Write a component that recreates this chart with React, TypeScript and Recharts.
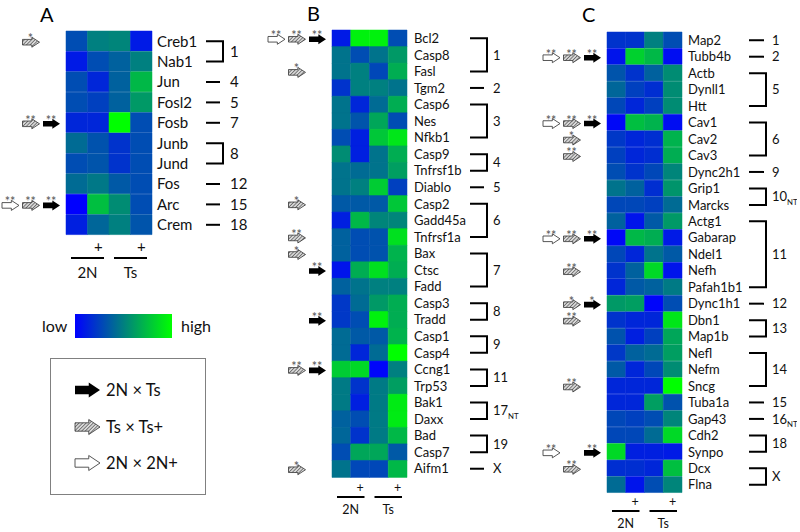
import React from 'react';
import { BarChart, Bar, XAxis, YAxis, Cell } from 'recharts';

const FONT = 'Lato, "Open Sans", sans-serif';

// ---- Panel A ----
const genesA = ['Creb1', 'Nab1', 'Jun', 'Fosl2', 'Fosb', 'Junb', 'Jund', 'Fos', 'Arc', 'Crem'];
const chromA = ['1', '1', '4', '5', '7', '8', '8', '12', '15', '18'];
const arrowsA = ['h1', '', '', '', 'h2 b2', '', '', '', 'w2 h2 b2', ''];
const a2N = [0.3, 0.1, 0.3, 0.3, 0.15, 0.42, 0.3, 0.42, 0.0, 0.12];
const a2Np = [0.5, 0.3, 0.15, 0.25, 0.15, 0.32, 0.33, 0.47, 0.75, 0.4];
const aTs = [0.52, 0.38, 0.38, 0.38, 1.0, 0.2, 0.2, 0.35, 0.55, 0.5];
const aTsp = [0.1, 0.5, 0.72, 0.6, 0.3, 0.3, 0.3, 0.3, 0.3, 0.33];

// ---- Panel B ----
const genesB = ['Bcl2', 'Casp8', 'Fasl', 'Tgm2', 'Casp6', 'Nes', 'Nfkb1', 'Casp9', 'Tnfrsf1b', 'Diablo', 'Casp2', 'Gadd45a', 'Tnfrsf1a', 'Bax', 'Ctsc', 'Fadd', 'Casp3', 'Tradd', 'Casp1', 'Casp4', 'Ccng1', 'Trp53', 'Bak1', 'Daxx', 'Bad', 'Casp7', 'Aifm1'];
const chromB = ['1', '1', '1', '2', '3', '3', '3', '4', '4', '5', '6', '6', '6', '7', '7', '7', '8', '8', '9', '9', '11', '11', '17NT', '17NT', '19', '19', 'X'];
const arrowsB = ['w2 h2 b2', '', 'h1', '', '', '', '', '', '', '', 'h1', '', 'h2', 'h1', 'b2', '', '', 'b2', '', '', 'h2 b2', '', '', '', '', '', 'h1'];
const b2N = [0.1, 0.45, 0.45, 0.2, 0.45, 0.45, 0.3, 0.55, 0.45, 0.45, 0.35, 0.12, 0.38, 0.38, 0.08, 0.38, 0.22, 0.22, 0.42, 0.42, 0.8, 0.48, 0.48, 0.38, 0.4, 0.3, 0.45];
const b2Np = [0.95, 0.3, 0.5, 0.5, 0.15, 0.33, 0.12, 0.12, 0.42, 0.5, 0.35, 0.72, 0.3, 0.3, 0.68, 0.45, 0.42, 0.3, 0.35, 0.15, 0.85, 0.2, 0.12, 0.3, 0.2, 0.65, 0.28];
const bTs = [0.95, 0.45, 0.28, 0.5, 0.42, 0.65, 0.78, 0.45, 0.45, 0.8, 0.35, 0.52, 0.32, 0.32, 0.88, 0.5, 0.6, 0.95, 0.35, 0.42, 0.02, 0.48, 0.48, 0.48, 0.48, 0.65, 0.28];
const bTsp = [0.3, 0.6, 0.68, 0.45, 0.68, 0.3, 0.9, 0.68, 0.62, 0.25, 0.78, 0.52, 0.88, 0.7, 0.68, 0.5, 0.68, 0.68, 0.7, 1.0, 0.5, 0.62, 0.92, 0.92, 0.72, 0.35, 0.72];

// ---- Panel C ----
const genesC = ['Map2', 'Tubb4b', 'Actb', 'Dynll1', 'Htt', 'Cav1', 'Cav2', 'Cav3', 'Dync2h1', 'Grip1', 'Marcks', 'Actg1', 'Gabarap', 'Ndel1', 'Nefh', 'Pafah1b1', 'Dync1h1', 'Dbn1', 'Map1b', 'Nefl', 'Nefm', 'Sncg', 'Tuba1a', 'Gap43', 'Cdh2', 'Synpo', 'Dcx', 'Flna'];
const chromC = ['1', '2', '5', '5', '5', '6', '6', '6', '9', '10NT', '10NT', '11', '11', '11', '11', '11', '12', '13', '13', '14', '14', '14', '15', '16NT', '18', '18', 'X', 'X'];
const arrowsC = ['', 'w2 h2 b2', '', '', '', 'w2 h2 b2', 'h1', 'h2', '', '', '', '', 'w2 h2 b2', '', 'h2', '', 'h1 b1', 'h2', '', '', '', 'h2', '', '', '', 'w2 b2', 'h2', ''];
const c2N = [0.2, 0.08, 0.33, 0.4, 0.28, 0.03, 0.22, 0.25, 0.3, 0.45, 0.28, 0.38, 0.03, 0.28, 0.2, 0.15, 0.6, 0.2, 0.32, 0.22, 0.35, 0.15, 0.15, 0.28, 0.28, 0.85, 0.18, 0.42];
const c2Np = [0.2, 0.82, 0.2, 0.25, 0.15, 0.75, 0.15, 0.15, 0.2, 0.38, 0.28, 0.08, 0.72, 0.15, 0.38, 0.35, 0.62, 0.15, 0.12, 0.38, 0.15, 0.15, 0.15, 0.25, 0.28, 0.12, 0.18, 0.08];
const cTs = [0.5, 0.72, 0.38, 0.18, 0.25, 0.7, 0.18, 0.18, 0.28, 0.18, 0.25, 0.35, 0.68, 0.45, 0.85, 0.38, 0.02, 0.15, 0.25, 0.42, 0.28, 0.15, 0.62, 0.3, 0.42, 0.12, 0.15, 0.3];
const cTsp = [0.3, 0.05, 0.55, 0.55, 0.55, 0.05, 0.7, 0.68, 0.52, 0.58, 0.42, 0.6, 0.1, 0.35, 0.08, 0.48, 0.3, 0.9, 0.65, 0.62, 0.55, 1.0, 0.32, 0.52, 0.85, 0.1, 0.75, 0.52];

const groupLabels = ['2N', 'Ts'];

// blue (low) -> green (high)
const heatColor = (v: number) => `rgb(0,${Math.round(255 * v)},${Math.round(255 * (1 - v))})`;

const arrowPath = (x0: number, cy: number, w: number, h: number) => {
    const sx = x0 + w * 0.55;
    const sh = h * 0.28;
    const hh = h / 2;
    return `M${x0},${cy - sh} L${sx},${cy - sh} L${sx},${cy - hh} L${x0 + w},${cy} L${sx},${cy + hh} L${sx},${cy + sh} L${x0},${cy + sh} Z`;
};

const Arrow = ({ kind, x, y, w, h }: { kind: string; x: number; y: number; w: number; h: number }) => {
    if (kind === 'b') return <path d={arrowPath(x, y, w, h)} fill="#000" />;
    if (kind === 'h') return <path d={arrowPath(x, y, w, h)} fill="url(#hatch)" stroke="#333" strokeWidth={0.8} />;
    return <path d={arrowPath(x, y, w, h)} fill="#fff" stroke="#444" strokeWidth={0.9} />;
};

const kindCol: Record<string, number> = { w: 0, h: 1, b: 2 };

interface PanelProps {
    letter: string;
    genes: string[];
    chrom: string[];
    arrows: string[];
    cols: number[][];
    left: number;
    mLeft: number;
    mTop: number;
    plotW: number;
    plotH: number;
    rightW: number;
    bottomH: number;
    fs: number;
    labelGap: number;
    br: { start: number; vx: number; num: number; dash: number };
    xt: { plus: number; line: number; label: number; fs: number };
    letterPos: [number, number];
}

const HeatPanel = (p: PanelProps) => {
    const n = p.genes.length;
    const rowH = p.plotH / n;
    const cellW = p.plotW / 4;
    const data = p.genes.map(g => ({ gene: g, c1: 1, c2: 1, c3: 1, c4: 1 }));

    const geneTick = (props: any) => {
        const { x, y, payload } = props;
        const i = p.genes.indexOf(payload.value);
        const cy = y;
        const c = p.chrom[i];
        const isStart = i === 0 || p.chrom[i - 1] !== c;
        let size = 0;
        while (i + size < n && p.chrom[i + size] === c) size++;
        const nt = c.endsWith('NT');
        const main = nt ? c.slice(0, -2) : c;
        const arr = p.arrows[i] ? p.arrows[i].split(' ') : [];
        const heatLeft = p.mLeft;
        return (
            <g>
                <text x={x + p.labelGap} y={cy + p.fs * 0.36} fontSize={p.fs} fill="#111">{payload.value}</text>
                {isStart && size === 1 && (
                    <line x1={x + p.br.start} x2={x + p.br.start + p.br.dash} y1={cy} y2={cy} stroke="#000" strokeWidth={2} />
                )}
                {isStart && size > 1 && (
                    <path
                        d={`M${x + p.br.start},${cy} H${x + p.br.vx} V${cy + (size - 1) * rowH} H${x + p.br.start}`}
                        fill="none" stroke="#000" strokeWidth={2}
                    />
                )}
                {isStart && (
                    <text x={x + p.br.num} y={cy + ((size - 1) / 2) * rowH + p.fs * 0.36} fontSize={p.fs} fill="#111">
                        <tspan>{main}</tspan>
                        {nt && <tspan fontSize={p.fs * 0.6} dy={p.fs * 0.3}>NT</tspan>}
                    </text>
                )}
                {arr.map(a => {
                    const col = kindCol[a[0]];
                    const ax = heatLeft - 6 - 17 - (2 - col) * 20.5;
                    return (
                        <g key={a}>
                            <Arrow kind={a[0]} x={ax} y={cy + 1} w={17} h={10} />
                            <text x={ax + 8} y={cy + 2} fontSize={12.5} fill="#555" textAnchor="middle">
                                {a[1] === '2' ? '**' : '*'}
                            </text>
                        </g>
                    );
                })}
            </g>
        );
    };

    const groupTick = (props: any) => {
        const { x, y, payload } = props;
        const label = payload.value === 1 ? groupLabels[0] : groupLabels[1];
        return (
            <g>
                <text x={x + cellW / 2} y={y + p.xt.plus + p.xt.fs * 0.36} fontSize={p.xt.fs} textAnchor="middle" fill="#111">+</text>
                <line x1={x - cellW + 5} x2={x + cellW - 5} y1={y + p.xt.line} y2={y + p.xt.line} stroke="#000" strokeWidth={2} />
                <text x={x} y={y + p.xt.label + p.xt.fs * 0.36} fontSize={p.xt.fs} textAnchor="middle" fill="#111">{label}</text>
            </g>
        );
    };

    const width = p.mLeft + p.plotW + p.rightW;
    const height = p.mTop + p.plotH + p.bottomH;

    return (
        <div style={{ position: 'absolute', left: p.left, top: 0, width, height }}>
            <div style={{ position: 'absolute', left: p.letterPos[0] - p.left, top: p.letterPos[1], fontSize: 20, lineHeight: '20px' }}>{p.letter}</div>
            <BarChart
                layout="vertical"
                width={width}
                height={height}
                data={data}
                margin={{ top: p.mTop, left: p.mLeft, right: 0, bottom: 0 }}
                barCategoryGap={0}
                barGap={0}
            >
                <XAxis type="number" domain={[0, 4]} ticks={[1, 3]} height={p.bottomH} axisLine={false} tickLine={false} tickSize={0} tickMargin={0} tick={groupTick} />
                <YAxis type="category" dataKey="gene" orientation="right" width={p.rightW} axisLine={false} tickLine={false} tickSize={0} tickMargin={0} interval={0} tick={geneTick} />
                {['c1', 'c2', 'c3', 'c4'].map((k, ci) => (
                    <Bar key={k} dataKey={k} stackId="s" isAnimationActive={false}>
                        {p.cols[ci].map((v, i) => (
                            <Cell key={`cell-${i}`} fill={heatColor(v)} stroke={heatColor(v)} strokeWidth={0.5} />
                        ))}
                    </Bar>
                ))}
            </BarChart>
        </div>
    );
};

const LegendArea = () => (
    <svg width={260} height={232} style={{ position: 'absolute', left: 0, top: 300 }}>
        <defs>
            <linearGradient id="heatGrad" x1="0" x2="1" y1="0" y2="0">
                <stop offset="0%" stopColor="rgb(0,0,255)" />
                <stop offset="100%" stopColor="rgb(0,255,0)" />
            </linearGradient>
            <pattern id="hatch" patternUnits="userSpaceOnUse" width={2.5} height={2.5} patternTransform="rotate(45)">
                <rect width={2.5} height={2.5} fill="#d8d8d8" />
                <line x1={0} y1={0} x2={0} y2={2.5} stroke="#555" strokeWidth={1.4} />
            </pattern>
        </defs>
        <text x={42} y={26 + 5.5} fontSize={16} fill="#111">low</text>
        <rect x={75} y={14} width={97} height={24} fill="url(#heatGrad)" />
        <text x={181} y={26 + 5.5} fontSize={16} fill="#111">high</text>
        <rect x={50.5} y={58.5} width={155} height={136} fill="none" stroke="#808080" strokeWidth={1} />
        <Arrow kind="b" x={75} y={90} w={25} h={15} />
        <text x={106} y={90 + 6} fontSize={16.5} fill="#111">2N × Ts</text>
        <Arrow kind="h" x={75} y={127} w={25} h={15} />
        <text x={106} y={127 + 6} fontSize={16.5} fill="#111">Ts × Ts+</text>
        <Arrow kind="w" x={75} y={163} w={25} h={15} />
        <text x={106} y={163 + 6} fontSize={16.5} fill="#111">2N × 2N+</text>
    </svg>
);

export default function App() {
    return (
        <div style={{ position: 'absolute', left: 0, top: 0, width: 800, height: 532, background: '#fff', fontFamily: FONT, overflow: 'hidden' }}>
            <HeatPanel
                letter="A" genes={genesA} chrom={chromA} arrows={arrowsA} cols={[a2N, a2Np, aTs, aTsp]}
                left={0} mLeft={66} mTop={31} plotW={86} plotH={204} rightW={100} bottomH={50}
                fs={15} labelGap={5} br={{ start: 54, vx: 71, num: 78, dash: 14 }}
                xt={{ plus: 12, line: 23, label: 38, fs: 15 }} letterPos={[40, 4]}
            />
            <HeatPanel
                letter="B" genes={genesB} chrom={chromB} arrows={arrowsB} cols={[b2N, b2Np, bTs, bTsp]}
                left={262} mLeft={70} mTop={30} plotW={75} plotH={447} rightW={122} bottomH={45}
                fs={13} labelGap={7} br={{ start: 63, vx: 80, num: 86, dash: 14 }}
                xt={{ plus: 10, line: 20, label: 32, fs: 12.5 }} letterPos={[307, 3]}
            />
            <HeatPanel
                letter="C" genes={genesC} chrom={chromC} arrows={arrowsC} cols={[c2N, c2Np, cTs, cTsp]}
                left={537} mLeft={70} mTop={32} plotW={75} plotH={461} rightW={115} bottomH={38}
                fs={13} labelGap={6} br={{ start: 67, vx: 84, num: 90, dash: 15 }}
                xt={{ plus: 8, line: 18, label: 30, fs: 12.5 }} letterPos={[582, 4]}
            />
            <LegendArea />
        </div>
    );
}
